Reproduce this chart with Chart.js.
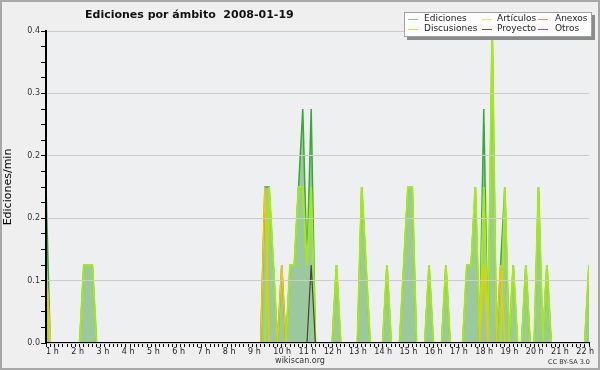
<!DOCTYPE html>
<html>
<head>
<meta charset="utf-8">
<script src="https://cdn.jsdelivr.net/npm/chart.js@4/dist/chart.umd.min.js"></script>
<style>
  html, body { margin: 0; padding: 0; background: #efefef; }
</style>
</head>
<body>
<canvas id="chart" width="600" height="370"></canvas>
<script>
// one point every 10 minutes, 01:00 .. 22:30
const startHour = 1;
const binsPerHour = 6;

// each row is one hour: :00 :10 :20 :30 :40 :50
const ediciones = [
  0.2, 0, 0, 0, 0, 0,         // 1 h
  0, 0, 0, 0.1, 0.1, 0.1,     // 2 h
  0, 0, 0, 0, 0, 0,           // 3 h
  0, 0, 0, 0, 0, 0,           // 4 h
  0, 0, 0, 0, 0, 0,           // 5 h
  0, 0, 0, 0, 0, 0,           // 6 h
  0, 0, 0, 0, 0, 0,           // 7 h
  0, 0, 0, 0, 0, 0,           // 8 h
  0, 0, 0, 0, 0.2, 0.2,       // 9 h
  0.1, 0, 0.1, 0, 0.1, 0.1,   // 10 h
  0.2, 0.3, 0.1, 0.3, 0, 0,   // 11 h
  0, 0, 0, 0.1, 0, 0,         // 12 h
  0, 0, 0, 0.2, 0.1, 0,       // 13 h
  0, 0, 0, 0.1, 0, 0,         // 14 h
  0, 0.1, 0.2, 0.2, 0, 0,     // 15 h
  0, 0.1, 0, 0, 0, 0.1,       // 16 h
  0, 0, 0, 0, 0.1, 0.1,       // 17 h
  0.2, 0, 0.3, 0, 0.4, 0,     // 18 h
  0.1, 0.2, 0, 0.1, 0, 0,     // 19 h
  0.1, 0, 0, 0.2, 0, 0.1,     // 20 h
  0, 0, 0, 0, 0, 0,           // 21 h
  0, 0, 0, 0.1                // 22 h
];
const articulos = [
  0.1, 0, 0, 0, 0, 0,
  0, 0, 0, 0.1, 0.1, 0.1,
  0, 0, 0, 0, 0, 0,
  0, 0, 0, 0, 0, 0,
  0, 0, 0, 0, 0, 0,
  0, 0, 0, 0, 0, 0,
  0, 0, 0, 0, 0, 0,
  0, 0, 0, 0, 0, 0,
  0, 0, 0, 0, 0, 0.2,
  0.1, 0, 0, 0, 0.1, 0.1,
  0.2, 0.2, 0.1, 0.2, 0, 0,
  0, 0, 0, 0.1, 0, 0,
  0, 0, 0, 0.2, 0.1, 0,
  0, 0, 0, 0.1, 0, 0,
  0, 0.1, 0.2, 0.2, 0, 0,
  0, 0.1, 0, 0, 0, 0.1,
  0, 0, 0, 0, 0.1, 0.1,
  0.2, 0, 0.2, 0, 0.4, 0,
  0, 0.2, 0, 0.1, 0, 0,
  0.1, 0, 0, 0.2, 0, 0.1,
  0, 0, 0, 0, 0, 0,
  0, 0, 0, 0.1
];
const discusiones = [
  0.1, 0, 0, 0, 0, 0,
  0, 0, 0, 0, 0, 0,
  0, 0, 0, 0, 0, 0,
  0, 0, 0, 0, 0, 0,
  0, 0, 0, 0, 0, 0,
  0, 0, 0, 0, 0, 0,
  0, 0, 0, 0, 0, 0,
  0, 0, 0, 0, 0, 0,
  0, 0, 0, 0, 0.2, 0,
  0, 0, 0.1, 0, 0, 0,
  0, 0, 0, 0, 0, 0,
  0, 0, 0, 0, 0, 0,
  0, 0, 0, 0, 0, 0,
  0, 0, 0, 0, 0, 0,
  0, 0, 0, 0, 0, 0,
  0, 0, 0, 0, 0, 0,
  0, 0, 0, 0, 0, 0,
  0, 0, 0.1, 0, 0, 0,
  0.1, 0, 0, 0, 0, 0,
  0, 0, 0, 0, 0, 0,
  0, 0, 0, 0, 0, 0,
  0, 0, 0, 0
];
const proyecto = [
  0, 0, 0, 0, 0, 0,
  0, 0, 0, 0, 0, 0,
  0, 0, 0, 0, 0, 0,
  0, 0, 0, 0, 0, 0,
  0, 0, 0, 0, 0, 0,
  0, 0, 0, 0, 0, 0,
  0, 0, 0, 0, 0, 0,
  0, 0, 0, 0, 0, 0,
  0, 0, 0, 0, 0, 0,
  0, 0, 0, 0, 0, 0,
  0, 0, 0, 0.1, 0, 0,
  0, 0, 0, 0, 0, 0,
  0, 0, 0, 0, 0, 0,
  0, 0, 0, 0, 0, 0,
  0, 0, 0, 0, 0, 0,
  0, 0, 0, 0, 0, 0,
  0, 0, 0, 0, 0, 0,
  0, 0, 0, 0, 0, 0,
  0, 0, 0, 0, 0, 0,
  0, 0, 0, 0, 0, 0,
  0, 0, 0, 0, 0, 0,
  0, 0, 0, 0
];
const anexos = ediciones.map(() => 0);
const otros = ediciones.map(() => 0);

const yMax = 0.4;
const yStep = 0.02;      // minor tick, label every 4th
const xStep = 1 / binsPerHour;

function pts(values) {
  return values.map((v, i) => ({ x: startHour + i / binsPerHour, y: v }));
}

function line(label, values, color, width, order, extra) {
  return Object.assign({
    label: label,
    data: pts(values),
    borderColor: color,
    borderWidth: width,
    pointRadius: 0,
    tension: 0,
    fill: false,
    clip: 0,
    order: order
  }, extra || {});
}

const legendItems = [
  ["Ediciones", "#88cc88", 408, 424, 19],
  ["Discusiones", "#ffcc33", 408, 424, 29],
  ["Artículos", "#ccff44", 482, 497, 19],
  ["Proyecto", "#555555", 482, 497, 29],
  ["Anexos", "#ff8844", 538, 555, 19],
  ["Otros", "#9944ff", 538, 555, 29]
];

const decor = {
  id: "decor",
  beforeDraw(chart) {
    const { ctx, chartArea: a } = chart;
    ctx.save();
    ctx.fillStyle = "#efefef";
    ctx.fillRect(0, 0, chart.width, chart.height);
    ctx.fillStyle = "#eeeff1";
    ctx.fillRect(a.left, a.top, a.right - a.left, a.bottom - a.top);
    ctx.restore();
  },
  afterDraw(chart) {
    const ctx = chart.ctx;
    ctx.save();
    ctx.strokeStyle = "#a8a8a8";
    ctx.lineWidth = 2;
    ctx.strokeRect(1, 1, chart.width - 2, chart.height - 2);

    // title
    ctx.fillStyle = "#111";
    ctx.font = "bold 11px 'DejaVu Sans'";
    ctx.textBaseline = "alphabetic";
    ctx.textAlign = "left";
    ctx.fillText("Ediciones por ámbito  2008-01-19", 85, 18);

    // legend box
    ctx.fillStyle = "#8a8a8a";
    ctx.fillRect(407, 15, 188, 25);
    ctx.fillStyle = "#fdfdfd";
    ctx.fillRect(404, 12, 188, 25);
    ctx.strokeStyle = "#a0a0a0";
    ctx.lineWidth = 1;
    ctx.strokeRect(404.5, 12.5, 187, 24);
    ctx.font = "9px 'DejaVu Sans'";
    ctx.textBaseline = "middle";
    legendItems.forEach(([txt, col, mx, tx, y]) => {
      ctx.strokeStyle = col;
      ctx.beginPath();
      ctx.moveTo(mx, y + 0.5);
      ctx.lineTo(mx + 10, y + 0.5);
      ctx.stroke();
      ctx.fillStyle = "#222";
      ctx.fillText(txt, tx, y);
    });

    // footer
    ctx.fillStyle = "#333";
    ctx.font = "8px 'DejaVu Sans'";
    ctx.textAlign = "center";
    ctx.fillText("wikiscan.org", 300, 361);
    ctx.font = "6.5px 'DejaVu Sans'";
    ctx.textAlign = "right";
    ctx.fillText("CC BY-SA 3.0", 590, 362);
    ctx.restore();
  }
};

new Chart(document.getElementById("chart"), {
  type: "line",
  data: {
    datasets: [
      line("Discusiones", discusiones, "#f7c600", 1.5, 1),
      line("Proyecto", proyecto, "#444444", 1.2, 2),
      line("Anexos", anexos, "#f07830", 1.2, 3),
      line("Otros", otros, "#9040f0", 1.2, 3),
      line("Artículos", articulos, "#a6e81c", 2, 4),
      line("Ediciones", ediciones, "#38a838", 1.5, 5, {
        fill: "origin",
        backgroundColor: "rgba(51,153,51,0.44)"
      })
    ]
  },
  options: {
    responsive: false,
    animation: false,
    events: [],
    layout: { padding: { left: 0, top: 31, right: 11, bottom: 0 } },
    plugins: {
      legend: { display: false },
      tooltip: { enabled: false }
    },
    scales: {
      x: {
        type: "linear",
        min: startHour,
        max: startHour + (ediciones.length - 1) / binsPerHour,
        border: { color: "#000", width: 2, z: 1 },
        grid: { drawOnChartArea: false, drawTicks: true, tickLength: 4, tickColor: "#000", z: 1 },
        ticks: {
          stepSize: xStep,
          autoSkip: false,
          maxRotation: 0,
          align: "start",
          padding: 0,
          color: "#222",
          font: { family: "DejaVu Sans", size: 8 },
          callback: v => Math.abs(v - Math.round(v)) < 1e-6 ? Math.round(v) + " h" : ""
        },
        afterFit: s => { s.height = 27; s.paddingLeft = 0; s.paddingRight = 0; }
      },
      y: {
        min: 0,
        max: yMax,
        border: { color: "#000", width: 2, z: 1 },
        grid: {
          color: c => c.index % 4 === 0 ? "#cccccc" : "rgba(0,0,0,0)",
          tickLength: 5,
          tickColor: "#000",
          z: 1
        },
        ticks: {
          stepSize: yStep,
          autoSkip: false,
          padding: 1,
          color: "#333",
          font: { family: "DejaVu Sans", size: 8 },
          callback: (v, i) => i % 4 === 0 ? v.toFixed(1) : ""
        },
        title: {
          display: true,
          text: "Ediciones/min",
          color: "#000",
          font: { family: "DejaVu Sans", size: 11 },
          padding: { top: 2, bottom: 0 }
        },
        afterFit: s => { s.width = 46; s.paddingTop = 0; s.paddingBottom = 0; }
      }
    }
  },
  plugins: [decor]
});
</script>
</body>
</html>
